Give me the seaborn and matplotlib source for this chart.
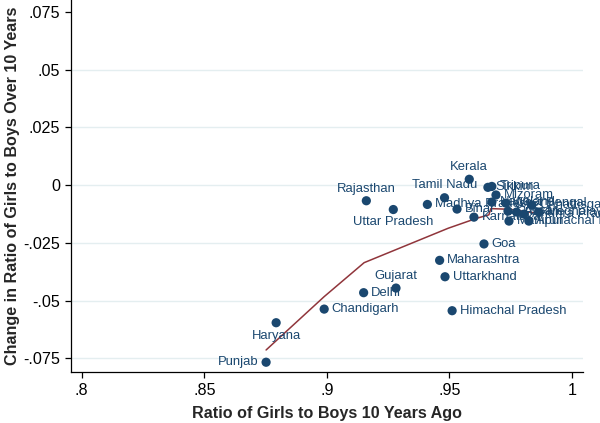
import matplotlib
matplotlib.use("Agg")
import matplotlib.pyplot as plt
import seaborn as sns
import pandas as pd

# ---- data ----
states = ["Punjab", "Haryana", "Chandigarh", "Delhi", "Gujarat", "Maharashtra",
          "Uttarkhand", "Himachal Pradesh", "Goa", "Uttar Pradesh", "Madhya Pradesh",
          "Rajasthan", "Tamil Nadu", "Kerala", "Bihar", "Karnataka", "Sikkim",
          "Tripura", "Mizoram", "Nagaland", "West Bengal", "Chhattisgarh",
          "Meghalaya", "Assam", "Orissa", "Andhra Pradesh", "Manipur",
          "Arunachal Pradesh"]
ratio_before = [0.8752, 0.8793, 0.8989, 0.9150, 0.9282, 0.9460,
                0.9482, 0.9511, 0.9641, 0.9271, 0.9410,
                0.9161, 0.9480, 0.9581, 0.9531, 0.9600, 0.9657,
                0.9673, 0.9690, 0.9673, 0.9730, 0.9836,
                0.9865, 0.9774, 0.9739, 0.9804, 0.9743,
                0.9824]
ratio_change = [-0.0767, -0.0596, -0.0537, -0.0466, -0.0446, -0.0326,
                -0.0397, -0.0544, -0.0255, -0.0106, -0.0084,
                -0.0068, -0.0055, 0.0025, -0.0104, -0.0139, -0.0010,
                -0.0006, -0.0043, -0.0074, -0.0078, -0.0087,
                -0.0117, -0.0117, -0.0113, -0.0126, -0.0156,
                -0.0156]

fit_x = [0.8752, 0.8989, 0.9152, 0.9495, 0.9611, 0.9661, 0.9669, 0.9747, 0.9808, 0.9869]
fit_y = [-0.0714, -0.0483, -0.0336, -0.0187, -0.0144, -0.0129, -0.0102, -0.0105, -0.0115, -0.0123]

x_ticks = [0.8, 0.85, 0.9, 0.95, 1.0]
x_tick_labels = [".8", ".85", ".9", ".95", "1"]
y_ticks = [-0.075, -0.05, -0.025, 0.0, 0.025, 0.05, 0.075]
y_tick_labels = ["-.075", "-.05", "-.025", "0", ".025", ".05", ".075"]

# label placement (clock positions as in Stata): 3 = right, 9 = left, 12 = above, 6 = below
label_pos = {"Punjab": 9, "Haryana": 6, "Gujarat": 12, "Uttar Pradesh": 6,
             "Rajasthan": 12, "Tamil Nadu": 12, "Kerala": 12}

df = pd.DataFrame({"state": states, "before": ratio_before, "change": ratio_change})
fit = pd.DataFrame({"x": fit_x, "y": fit_y})

NAVY = "#1a476f"
MAROON = "#90353b"

sns.set_theme(style="ticks")
plt.rcParams["font.family"] = ["Liberation Sans", "DejaVu Sans"]

fig = plt.figure(figsize=(6.0, 4.23), dpi=100)
ax = fig.add_axes([71 / 600, 1 - 371.7 / 423, (583 - 71) / 600, 371.7 / 423])

ax.set_xlim(0.7956, 1.0045)
ax.set_ylim(-0.0808, 0.0801)

for yv in y_ticks[:-1]:
    ax.axhline(yv, color="#e4eef0", lw=1.0, zorder=0)

sns.lineplot(data=fit, x="x", y="y", sort=False, color=MAROON, lw=1.1, ax=ax, zorder=2)
sns.scatterplot(data=df, x="before", y="change", color=NAVY, s=44, edgecolor="none",
                ax=ax, zorder=3)

for name, xv, yv in zip(states, ratio_before, ratio_change):
    pos = label_pos.get(name, 3)
    if pos == 3:
        off, ha, va = (5.5, 0), "left", "center"
    elif pos == 9:
        off, ha, va = (-5.5, 0), "right", "center"
    elif pos == 12:
        off, ha, va = (0, 4.5), "center", "bottom"
    else:
        off, ha, va = (0, -5.0), "center", "top"
    ax.annotate(name, (xv, yv), xytext=off, textcoords="offset points",
                ha=ha, va=va, color=NAVY, fontsize=9.4, annotation_clip=False, zorder=4)

ax.set_xticks(x_ticks)
ax.set_xticklabels(x_tick_labels)
ax.set_yticks(y_ticks)
ax.set_yticklabels(y_tick_labels)
ax.tick_params(axis="both", labelsize=11.6, colors="black", length=4, width=0.9,
               direction="out", pad=4)
ax.tick_params(axis="y", labelrotation=0)

ax.set_xlabel("Ratio of Girls to Boys 10 Years Ago", fontsize=11.6, fontweight="bold",
              labelpad=6)
ax.set_ylabel("Change in Ratio of Girls to Boys Over 10 Years", fontsize=11.6,
              fontweight="bold", labelpad=2)

sns.despine(ax=ax)
for sp in ("left", "bottom"):
    ax.spines[sp].set_color("black")
    ax.spines[sp].set_linewidth(0.9)
ax.grid(False)

fig.savefig("out.png", dpi=100)
